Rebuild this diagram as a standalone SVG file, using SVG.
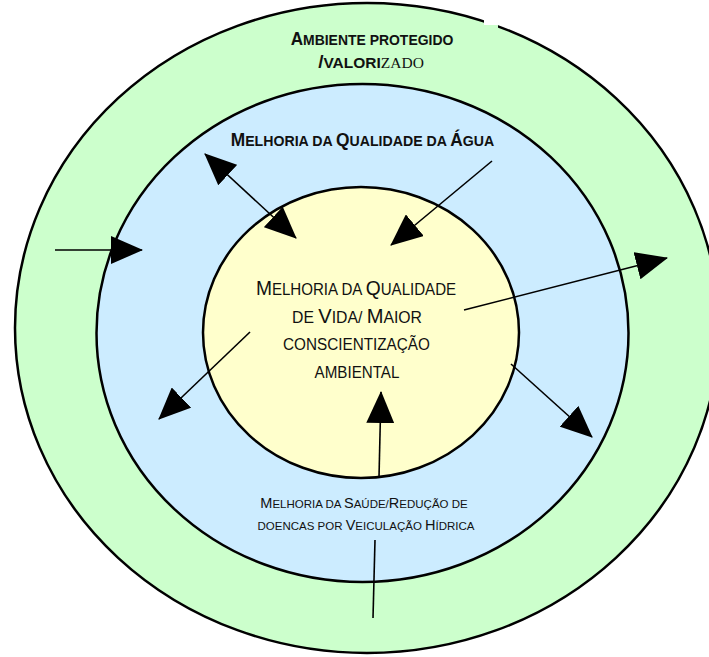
<svg xmlns="http://www.w3.org/2000/svg" width="709" height="657" viewBox="0 0 709 657">
<defs>
<style>
.ring{stroke:#000;stroke-width:2.5}
.t{font-family:"Liberation Sans",Arial,sans-serif;fill:#111;text-anchor:middle}
.b{font-weight:bold}
.c{stroke:#000;stroke-width:1.6;fill:none}
</style>
<marker id="ah" viewBox="0 0 32 28" refX="31" refY="14" markerWidth="32" markerHeight="28" markerUnits="userSpaceOnUse" orient="auto-start-reverse">
<path d="M0,0 L32,14 L0,28 Z" fill="#000"/>
</marker>
</defs>
<rect width="709" height="657" fill="#fff"/>
<g id="outer">
<ellipse class="ring" cx="367" cy="328" rx="352" ry="325" fill="#ccffcc"/>
<rect x="484" y="14" width="14" height="11" fill="#fff"/>
<rect x="484" y="25" width="14" height="6" fill="#ccffcc"/>
<text class="t b" transform="translate(372,45) scale(0.9,1)"><tspan font-size="19">A</tspan><tspan font-size="15.5">MBIENTE PROTEGIDO</tspan></text>
<text class="t" transform="translate(371,68)"><tspan font-size="19" font-weight="bold">/</tspan><tspan font-size="15.5" font-weight="bold">VALORI</tspan><tspan font-size="15.5" font-family="Liberation Serif,serif">ZADO</tspan></text>
</g>
<g id="middle">
<ellipse class="ring" cx="362.5" cy="333" rx="266" ry="249" fill="#ccecff"/>
<text class="t b" transform="translate(362.5,146) scale(0.913,1)"><tspan font-size="19">M</tspan><tspan font-size="15.5">ELHORIA DA </tspan><tspan font-size="19">Q</tspan><tspan font-size="15.5">UALIDADE DA </tspan><tspan font-size="19">Á</tspan><tspan font-size="15.5">GUA</tspan></text>
</g>
<g id="inner">
<ellipse class="ring" cx="361" cy="332.5" rx="158" ry="145.5" fill="#ffffcc"/>
<text class="t" transform="translate(356,295) scale(0.915,1)"><tspan font-size="21">M</tspan><tspan font-size="16.5">ELHORIA DA </tspan><tspan font-size="21">Q</tspan><tspan font-size="16.5">UALIDADE</tspan></text>
<text class="t" transform="translate(357,323) scale(0.956,1)"><tspan font-size="16.5">DE </tspan><tspan font-size="21">V</tspan><tspan font-size="16.5">IDA/ </tspan><tspan font-size="21">M</tspan><tspan font-size="16.5">AIOR</tspan></text>
<text class="t" font-size="16.5" transform="translate(356.5,350) scale(0.927,1)">CONSCIENTIZAÇÃO</text>
<text class="t" font-size="16.5" transform="translate(357,378) scale(0.92,1)">AMBIENTAL</text>
</g>
<g id="health">
<text class="t" transform="translate(364,508)"><tspan font-size="14.5">M</tspan><tspan font-size="11.5">ELHORIA DA </tspan><tspan font-size="14.5">S</tspan><tspan font-size="11.5">AÚDE/</tspan><tspan font-size="14.5">R</tspan><tspan font-size="11.5">EDUÇÃO DE</tspan></text>
<text class="t" transform="translate(366,530)"><tspan font-size="11.5">DOENCAS POR </tspan><tspan font-size="14.5">V</tspan><tspan font-size="11.5">EICULAÇÃO </tspan><tspan font-size="14.5">H</tspan><tspan font-size="11.5">ÍDRICA</tspan></text>
</g>
<g id="connectors">
<line class="c" x1="205" y1="154" x2="296" y2="238" marker-start="url(#ah)" marker-end="url(#ah)"/>
<line class="c" x1="492" y1="161" x2="391" y2="245" marker-end="url(#ah)"/>
<line class="c" x1="55" y1="250" x2="142" y2="250" marker-end="url(#ah)"/>
<line class="c" x1="464" y1="310" x2="667" y2="258" marker-end="url(#ah)"/>
<line class="c" x1="250" y1="332" x2="159" y2="419" marker-end="url(#ah)"/>
<line class="c" x1="511" y1="364" x2="592" y2="437" marker-end="url(#ah)"/>
<line class="c" x1="379" y1="477" x2="381" y2="392" marker-end="url(#ah)"/>
<line class="c" x1="375" y1="540" x2="373" y2="618"/>
</g>
</svg>
